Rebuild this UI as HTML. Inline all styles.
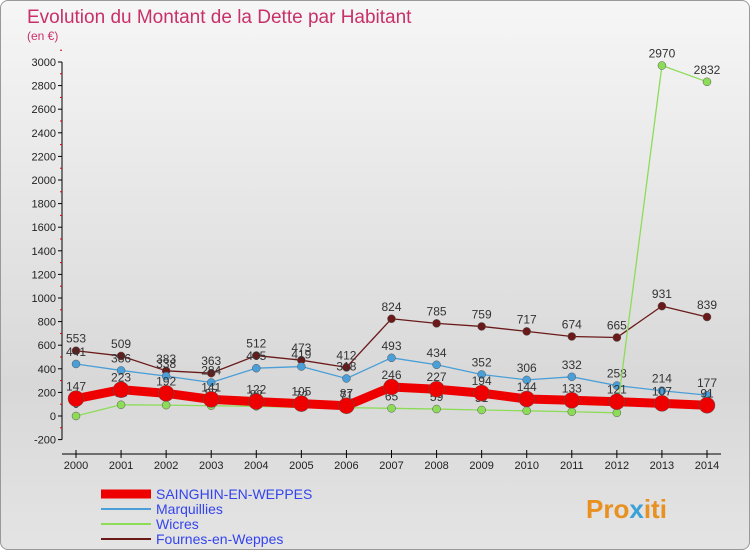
<!DOCTYPE html>
<html><head><meta charset="utf-8"><style>
body{margin:0;width:750px;height:550px;overflow:hidden;font-family:"Liberation Sans",sans-serif}
#wrap{position:absolute;left:0;top:0;width:748px;height:548px;border:1px solid #999;border-radius:8px;background:linear-gradient(#f6f6f6,#d8d8d8 70%,#e4e4e4)}
</style></head><body>
<div id="wrap">
<svg id="svg" width="750" height="550" style="position:absolute;left:0;top:0">
<text x="26" y="22" font-size="19" fill="#c8306a">Evolution du Montant de la Dette par Habitant</text>
<text x="26" y="39" font-size="12" fill="#c8306a">(en €)</text>
<g id="axes"></g><g id="series"></g><g id="legend"></g>
<text x="585" y="517" font-size="26" font-weight="bold" fill="#e89020">Pro<tspan fill="#3aa0d8">x</tspan>iti</text>
</svg></div>
<script>
const years=["2000","2001","2002","2003","2004","2005","2006","2007","2008","2009","2010","2011","2012","2013","2014"];
const yTicks=[-200,0,200,400,600,800,1000,1200,1400,1600,1800,2000,2200,2400,2600,2800,3000];
const sainghin=[147,223,192,141,122,105,87,246,227,194,144,133,121,107,91];
const marquillies=[441,386,338,284,405,419,318,493,434,352,306,332,258,214,177];
const wicres=[0,95,92,87,82,72,71,65,59,51,44,36,27,2970,2832];
const fournes=[553,509,383,363,512,473,412,824,785,759,717,674,665,931,839];
const NS="http://www.w3.org/2000/svg";
const X=i=>75+i*(706-75)/14, Y=v=>415-v*(415-61)/3000;
function mk(t,a,p){const e=document.createElementNS(NS,t);for(const k in a)e.setAttribute(k,a[k]);p.appendChild(e);return e;}
const ax=document.getElementById('axes');
let l=mk('line',{x1:61,y1:Y(-200),x2:61,y2:Y(3000),stroke:'#000'},ax);

l=mk('line',{x1:61,y1:453,x2:720,y2:453,stroke:'#000'},ax);

yTicks.forEach(v=>{mk('line',{x1:57,y1:Y(v),x2:61,y2:Y(v),stroke:'#000'},ax);
 mk('line',{x1:59,y1:Y(v+100),x2:61,y2:Y(v+100),stroke:'#d00'},ax);
 const t=mk('text',{x:55,y:Y(v)+4,'font-size':11,'text-anchor':'end',fill:'#222'},ax);t.textContent=v;
 });
years.forEach((y,i)=>{mk('line',{x1:X(i),y1:449,x2:X(i),y2:457,stroke:'#000'},ax);
 const t=mk('text',{x:X(i),y:468,'font-size':11,'text-anchor':'middle',fill:'#222'},ax);t.textContent=y;
 });
const sg=document.getElementById('series');
function series(data,color,w,r,name){const g=mk('g',{},sg);
 
 mk('polyline',{points:data.map((v,i)=>X(i)+','+Y(v)).join(' '),fill:'none',stroke:color,'stroke-width':w,'stroke-linejoin':'round'},g);
 data.forEach((v,i)=>{const c=mk('circle',{cx:X(i),cy:Y(v),r:r,fill:color,stroke:'#555','stroke-width':0.5},g);
  
  const t=mk('text',{x:X(i),y:Y(v)-8,'font-size':12,'text-anchor':'middle',fill:'#333'},g);t.textContent=v;
  });}
series(fournes,'#6b1a1a',1.3,4,'fournes');
series(marquillies,'#4a9fd8',1.3,4,'marquillies');
series(wicres,'#8ddc58',1.3,4,'wicres');
series(sainghin,'#ee0000',9,8,'sainghin');
const lg=document.getElementById('legend');
[["SAINGHIN-EN-WEPPES","#ee0000",9],["Marquillies","#4a9fd8",2],["Wicres","#8ddc58",2],["Fournes-en-Weppes","#6b1a1a",2]].forEach((d,i)=>{
 const y=493+i*15;const g=mk('g',{},lg);
 
 mk('line',{x1:100,y1:y,x2:150,y2:y,stroke:d[1],'stroke-width':d[2]},g);
 const t=mk('text',{x:155,y:y+5,'font-size':14,fill:'#3344ee'},g);t.textContent=d[0];});
</script></body></html>
